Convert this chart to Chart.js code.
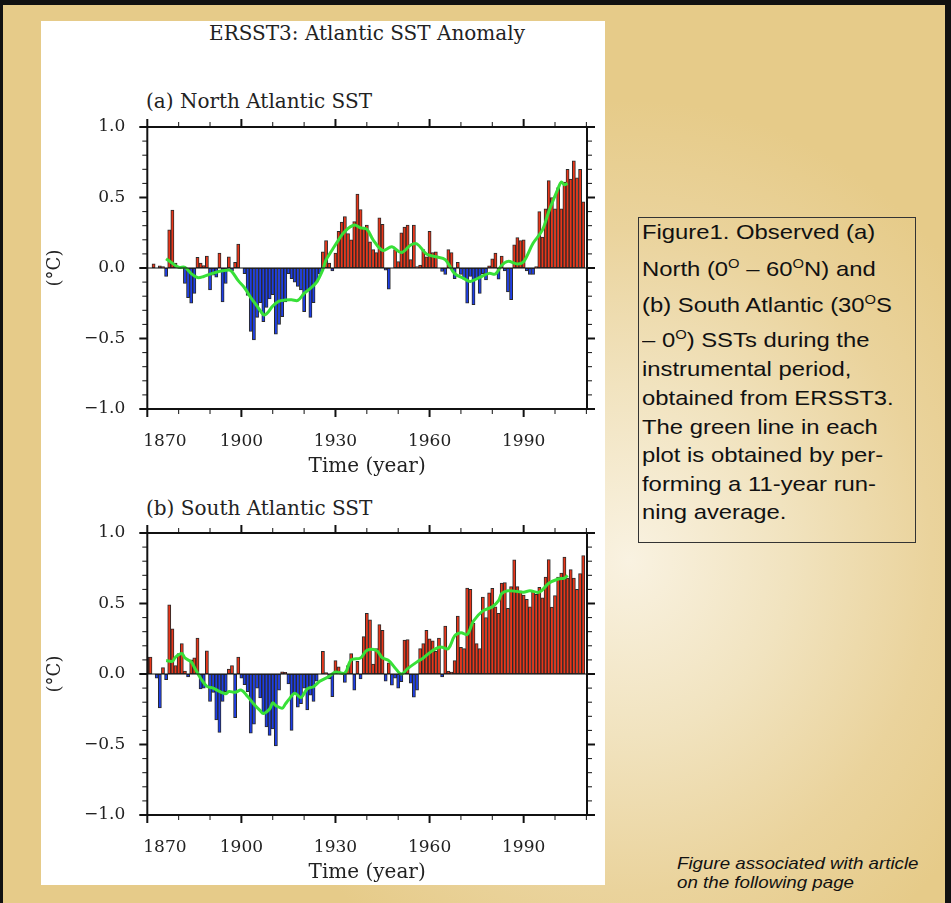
<!DOCTYPE html>
<html lang="en">
<head>
  <meta charset="UTF-8">
  <title>ERSST3: Atlantic SST Anomaly</title>
  <style>
    html, body {
      margin: 0;
      padding: 0;
      width: 951px;
      height: 903px;
      overflow: hidden;
      background: #111;
    }
    #page {
      position: absolute;
      left: 3px;
      top: 5px;
      width: 942px;
      height: 898px;
      background: radial-gradient(ellipse 420px 460px at 626px 555px, #f9f2e1 0%, #f1e3bf 38%, #ead39c 72%, #e6cb89 100%);
    }
    #panel {
      position: absolute;
      left: 41px;
      top: 21px;
      width: 564px;
      height: 864px;
      background: #fff;
    }
    .serif {
      position: absolute;
      font-family: 'DejaVu Serif', serif;
      font-size: 20px;
      line-height: 24px;
      color: #222;
      white-space: nowrap;
    }
    canvas {
      position: absolute;
      left: 41px;
    }
    #caption {
      position: absolute;
      left: 638px;
      top: 217px;
      width: 276px;
      height: 324px;
      border: 1px solid #333;
    }
    .cap {
      position: absolute;
      left: 3px;
      font-family: 'Liberation Sans', Arial, sans-serif;
      font-size: 21px;
      line-height: 24px;
      color: #111;
      white-space: nowrap;
      transform: scaleX(1.135);
      transform-origin: left top;
    }
    .cap sup {
      font-size: 13px;
      line-height: 0;
      vertical-align: 8px;
    }
    .note {
      position: absolute;
      left: 677px;
      font-family: 'Liberation Sans', Arial, sans-serif;
      font-style: italic;
      font-size: 16.5px;
      line-height: 18px;
      color: #111;
      white-space: nowrap;
      transform: scaleX(1.135);
      transform-origin: left top;
    }
  </style>
</head>
<body>
  <div id="page"></div>
  <div id="panel"></div>

  <div class="serif" style="left:147px; width:440px; top:21px; text-align:center;">ERSST3: Atlantic SST Anomaly</div>
  <div class="serif" style="left:146px; top:89px;">(a) North Atlantic SST</div>
  <div class="serif" style="left:146px; top:496px;">(b) South Atlantic SST</div>

  <canvas id="northChart" width="564" height="410" style="top:80px;"></canvas>
  <canvas id="southChart" width="564" height="410" style="top:486px;"></canvas>

  <div id="caption"></div>
  <div class="cap" style="left:642px; top:220px;">Figure1. Observed (a)</div>
  <div class="cap" style="left:642px; top:257px;">North (0<sup>O</sup> – 60<sup>O</sup>N) and</div>
  <div class="cap" style="left:642px; top:293px;">(b) South Atlantic (30<sup>O</sup>S</div>
  <div class="cap" style="left:642px; top:328px;">– 0<sup>O</sup>) SSTs during the</div>
  <div class="cap" style="left:642px; top:357px;">instrumental period,</div>
  <div class="cap" style="left:642px; top:386px;">obtained from ERSST3.</div>
  <div class="cap" style="left:642px; top:415px;">The green line in each</div>
  <div class="cap" style="left:642px; top:443px;">plot is obtained by per-</div>
  <div class="cap" style="left:642px; top:472px;">forming a 11-year run-</div>
  <div class="cap" style="left:642px; top:500px;">ning average.</div>

  <div class="note" style="top:854px;">Figure associated with article</div>
  <div class="note" style="top:873px;">on the following page</div>

  <script src="https://cdn.jsdelivr.net/npm/chart.js"></script>
  <script>
    // Years 1870-2009, one bar per year
    const years = Array.from({ length: 140 }, (_, i) => 1870 + i);

    // (a) North Atlantic SST anomaly (degC)
    const northSST = [
      0.00, 0.00, 0.03, 0.00, 0.015, 0.01, -0.06, 0.27, 0.41, 0.035,
      0.00, 0.00, -0.11, -0.21, -0.25, -0.18, 0.075, 0.035, 0.017, 0.085,
      -0.155, -0.05, -0.065, 0.105, -0.24, -0.11, 0.08, -0.02, 0.04, 0.17,
      0.00, -0.04, -0.195, -0.45, -0.51, -0.35, -0.245, -0.38, -0.28, -0.22,
      -0.19, -0.47, -0.40, -0.345, -0.24, -0.04, -0.075, -0.10, -0.13, -0.155,
      -0.31, -0.155, -0.35, -0.245, -0.10, -0.04, 0.115, 0.195, 0.035, -0.02,
      0.105, 0.26, 0.325, 0.365, 0.245, 0.20, 0.33, 0.525, 0.415, 0.29,
      0.305, 0.185, 0.13, 0.11, 0.355, 0.31, -0.015, -0.15, 0.00, 0.13,
      0.045, 0.25, 0.29, 0.305, 0.06, 0.305, 0.01, 0.02, 0.13, 0.08,
      0.26, 0.11, 0.115, 0.00, -0.025, -0.045, 0.13, 0.11, -0.075, 0.04,
      -0.045, -0.08, -0.25, -0.06, -0.26, -0.075, -0.18, -0.04, -0.085, 0.015,
      0.065, 0.105, -0.08, 0.085, -0.02, -0.17, -0.225, 0.165, 0.215, 0.195,
      0.20, -0.02, -0.045, -0.045, 0.01, 0.40, 0.22, 0.42, 0.62, 0.50,
      0.42, 0.57, 0.42, 0.61, 0.70, 0.63, 0.76, 0.64, 0.70, 0.47
    ];

    // (b) South Atlantic SST anomaly (degC)
    const southSST = [
      0.12, 0.12, 0.00, -0.03, -0.24, 0.045, -0.04, 0.49, 0.32, 0.06,
      0.145, 0.215, 0.02, -0.02, 0.10, 0.115, 0.255, -0.105, -0.10, 0.165,
      -0.195, -0.13, -0.325, -0.415, -0.195, -0.125, 0.035, 0.06, -0.31, 0.12,
      -0.03, -0.075, -0.125, -0.42, -0.355, -0.10, -0.17, -0.28, -0.375, -0.435,
      -0.39, -0.51, -0.115, 0.015, 0.012, -0.07, -0.40, -0.14, -0.235, -0.21,
      -0.10, -0.255, -0.15, -0.195, -0.05, 0.00, 0.16, 0.01, -0.035, -0.16,
      0.095, 0.05, 0.00, -0.06, 0.06, 0.145, -0.115, 0.09, -0.035, 0.265,
      0.43, 0.385, 0.07, 0.18, 0.35, 0.31, -0.05, 0.08, -0.08, -0.03,
      -0.10, -0.055, 0.24, 0.245, -0.065, -0.165, -0.115, 0.18, 0.215, 0.31,
      0.25, 0.235, 0.16, 0.255, -0.02, 0.34, 0.02, 0.013, 0.095, 0.41,
      0.19, 0.18, 0.61, 0.60, 0.36, 0.215, 0.18, 0.545, 0.40, 0.575,
      0.607, 0.477, 0.43, 0.645, 0.648, 0.465, 0.62, 0.81, 0.62, 0.59,
      0.56, 0.53, 0.476, 0.587, 0.565, 0.615, 0.54, 0.687, 0.812, 0.475,
      0.556, 0.687, 0.715, 0.83, 0.68, 0.74, 0.68, 0.60, 0.712, 0.84
    ];

    // green 11-year running mean
    const northMeanYears = [1876, 1878, 1880, 1882, 1884, 1886, 1888, 1890, 1892, 1894, 1896, 1897, 1899,
      1901, 1903, 1905, 1907, 1908, 1910, 1912, 1914, 1916, 1918, 1920, 1922, 1924, 1926, 1927, 1929,
      1931, 1933, 1936, 1938, 1940, 1942, 1945, 1948, 1951, 1954, 1956, 1959, 1962, 1965, 1968, 1971,
      1973, 1976, 1979, 1981, 1983, 1985, 1988, 1990, 1993, 1996, 1998, 2001, 2002, 2003, 2004];
    const northMean = [0.066, 0.033, 0.005, 0.005, -0.04, -0.068, -0.06, -0.043, -0.03, -0.02, -0.014, -0.026, -0.09,
      -0.14, -0.21, -0.27, -0.33, -0.326, -0.27, -0.235, -0.227, -0.225, -0.23, -0.18, -0.145, -0.10, -0.01, 0.057, 0.13,
      0.20, 0.26, 0.305, 0.285, 0.275, 0.20, 0.125, 0.15, 0.11, 0.163, 0.17, 0.10, 0.08, 0.06, -0.04, -0.075,
      -0.095, -0.066, -0.038, -0.043, 0.02, 0.047, 0.028, 0.045, 0.175, 0.27, 0.40, 0.565, 0.61, 0.59, 0.60];

    const southMeanYears = [1876, 1878, 1879, 1881, 1882, 1884, 1885, 1887, 1889, 1891, 1893, 1895, 1896, 1898,
      1900, 1902, 1904, 1906, 1907, 1909, 1910, 1911, 1913, 1914, 1915, 1917, 1919, 1921, 1923, 1925, 1928,
      1930, 1933, 1935, 1938, 1940, 1943, 1945, 1947, 1949, 1951, 1953, 1956, 1958, 1961, 1963, 1964, 1966,
      1968, 1970, 1972, 1974, 1977, 1980, 1982, 1983, 1985, 1988, 1990, 1992, 1995, 1998, 2001, 2003, 2004];
    const southMean = [0.095, 0.09, 0.12, 0.145, 0.114, 0.086, 0.048, -0.03, -0.088, -0.10, -0.124, -0.14, -0.124, -0.13,
      -0.114, -0.16, -0.214, -0.26, -0.28, -0.248, -0.205, -0.224, -0.243, -0.214, -0.185, -0.136, -0.167, -0.105, -0.09, -0.052, -0.017,
      0.014, 0.007, 0.10, 0.114, 0.167, 0.167, 0.114, 0.095, 0.043, 0.00, 0.038, 0.086, 0.114, 0.167, 0.19, 0.19, 0.18,
      0.27, 0.293, 0.28, 0.376, 0.448, 0.476, 0.52, 0.57, 0.59, 0.585, 0.58, 0.59, 0.58, 0.643, 0.674, 0.68, 0.70];

    // axis ticks
    const xTickValues = [1870, 1900, 1930, 1960, 1990];
    const xMinorTicks = [1880, 1890, 1910, 1920, 1940, 1950, 1970, 1980, 2000, 2010];
    const yTickValues = [-1.0, -0.5, 0.0, 0.5, 1.0];
    const yTickLabels = ['\u22121.0', '\u22120.5', '0.0', '0.5', '1.0'];
    const yMinorTicks = [-0.9, -0.8, -0.7, -0.6, -0.4, -0.3, -0.2, -0.1, 0.1, 0.2, 0.3, 0.4, 0.6, 0.7, 0.8, 0.9];

    const RED = '#e8361a';
    const BLUE = '#1d3ee6';
    const GREEN = '#38e038';
    const SERIF = "'DejaVu Serif', serif";

    // the first year label sits to the right of the corner, as in the original
    const firstLabelShift = {
      id: 'firstLabelShift',
      beforeDraw(chart) {
        const items = chart.scales.x.getLabelItems();
        if (items.length && !items[0].shifted) {
          items[0].options.textAlign = 'left';
          items[0].options.translation[0] -= 4;
          items[0].shifted = true;
        }
      }
    };

    // frame, zero line and tick marks on all four sides
    const frameTicks = {
      id: 'frameTicks',
      afterDraw(chart) {
        const { ctx, chartArea: a, scales: { x, y } } = chart;
        const seg = (x1, y1, x2, y2, w) => {
          ctx.lineWidth = w;
          ctx.beginPath();
          ctx.moveTo(x1, y1);
          ctx.lineTo(x2, y2);
          ctx.stroke();
        };
        ctx.save();
        ctx.strokeStyle = '#111';
        const y0 = y.getPixelForValue(0);
        seg(a.left, y0, a.right, y0, 1);
        ctx.lineWidth = 2;
        ctx.strokeRect(a.left, a.top, a.right - a.left, a.bottom - a.top);
        xTickValues.forEach(v => {
          const p = x.getPixelForValue(v);
          seg(p, a.bottom, p, a.bottom + 8, 2);
          seg(p, a.top, p, a.top - 8, 2);
        });
        xMinorTicks.forEach(v => {
          const p = x.getPixelForValue(v);
          seg(p, a.bottom, p, a.bottom + 5, 1);
          seg(p, a.top, p, a.top - 5, 1);
        });
        yTickValues.forEach(v => {
          const p = y.getPixelForValue(v);
          seg(a.left - 8, p, a.left, p, 2);
          seg(a.right, p, a.right + 8, p, 2);
        });
        yMinorTicks.forEach(v => {
          const p = y.getPixelForValue(v);
          seg(a.left - 5, p, a.left, p, 1);
          seg(a.right, p, a.right + 5, p, 1);
        });
        ctx.restore();
      }
    };

    function panelChart(id, values, meanYears, meanValues) {
      return new Chart(document.getElementById(id), {
        data: {
          datasets: [
            {
              type: 'line',
              data: meanYears.map((yr, i) => ({ x: yr, y: meanValues[i] })),
              borderColor: GREEN,
              borderWidth: 3,
              pointRadius: 0,
              tension: 0.35,
              order: 0
            },
            {
              type: 'bar',
              data: years.map((yr, i) => ({ x: yr, y: values[i] })),
              backgroundColor: values.map(v => v >= 0 ? RED : BLUE),
              borderColor: '#2a2a2a',
              borderWidth: 1,
              borderSkipped: false,
              barPercentage: 1,
              categoryPercentage: 1,
              order: 1
            }
          ]
        },
        options: {
          responsive: false,
          animation: false,
          events: [],
          layout: { padding: { left: 0, top: 47, right: 18, bottom: 14 } },
          plugins: { legend: { display: false }, tooltip: { enabled: false } },
          scales: {
            x: {
              type: 'linear',
              min: 1870,
              max: 2010.2,
              offset: false,
              grid: { display: false, drawTicks: false, offset: false },
              border: { display: false },
              afterBuildTicks: s => { s.ticks = xTickValues.map(v => ({ value: v })); },
              afterFit: s => { s.height = 67; },
              ticks: {
                autoSkip: false,
                maxRotation: 0,
                padding: 22,
                color: '#222',
                font: { family: SERIF, size: 17 },
                callback: v => String(v)
              },
              title: {
                display: true,
                text: 'Time (year)',
                color: '#222',
                font: { family: SERIF, size: 20 },
                padding: { top: 0, bottom: -3 }
              }
            },
            y: {
              min: -1,
              max: 1,
              grid: { display: false, drawTicks: false },
              border: { display: false },
              afterBuildTicks: s => { s.ticks = yTickValues.map(v => ({ value: v })); },
              afterFit: s => { s.width = 106.3; },
              ticks: {
                padding: 22,
                color: '#222',
                font: { family: SERIF, size: 17 },
                callback: (v, i) => yTickLabels[i]
              },
              title: {
                display: true,
                text: '(\u00B0C)',
                color: '#222',
                font: { family: SERIF, size: 18 },
                padding: { top: 4, bottom: 0 }
              }
            }
          }
        },
        plugins: [firstLabelShift, frameTicks]
      });
    }

    panelChart('northChart', northSST, northMeanYears, northMean);
    panelChart('southChart', southSST, southMeanYears, southMean);
  </script>
</body>
</html>
